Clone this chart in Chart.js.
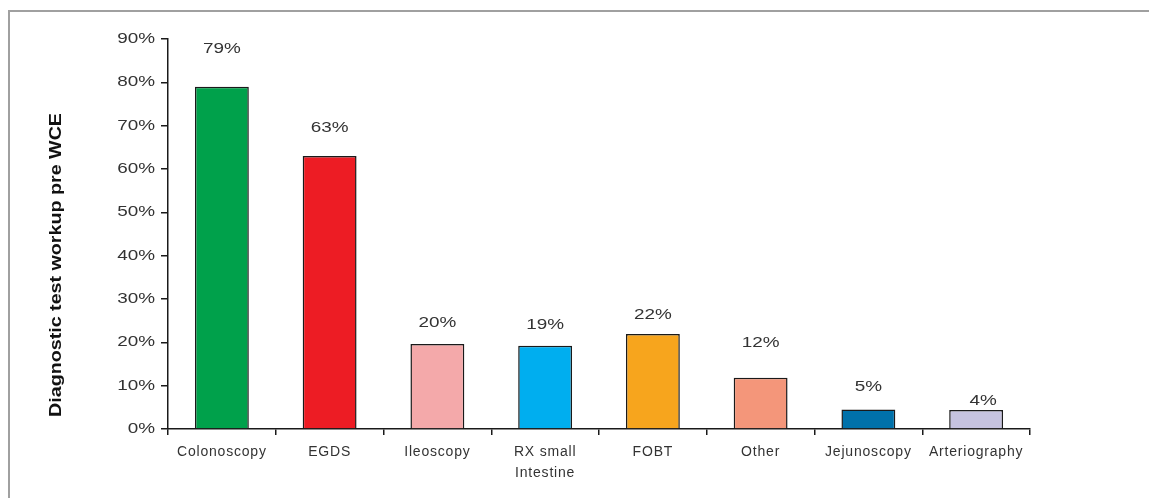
<!DOCTYPE html>
<html>
<head>
<meta charset="utf-8">
<script src="https://cdn.jsdelivr.net/npm/chart.js@4/dist/chart.umd.min.js"></script>
<style>
  html, body { margin: 0; padding: 0; background: #fff; overflow: hidden; }
  #frame { position: absolute; left: 8px; top: 10px; width: 1300px; height: 700px;
           border-top: 2px solid #a0a0a0; border-left: 2px solid #a0a0a0; }
  #wrap { position: absolute; left: 0; top: 0; width: 1149px; height: 498px; }
</style>
</head>
<body>
<div id="frame"></div>
<div id="wrap"><canvas id="c" width="1149" height="498"></canvas></div>
<script>
// ---- data ----
const categories = ["Colonoscopy", "EGDS", "Ileoscopy", ["RX small", "Intestine"], "FOBT", "Other", "Jejunoscopy", "Arteriography"];
const values = [79, 63, 19.6, 19.2, 21.9, 11.8, 4.5, 4.4];
const valueLabels = ["79%", "63%", "20%", "19%", "22%", "12%", "5%", "4%"];
const barColors = ["#00A14B", "#ED1C24", "#F4A9AA", "#00AEEF", "#F7A51D", "#F4967A", "#0071AA", "#C6C3E0"];
const yTicks = [0, 10, 20, 30, 40, 50, 60, 70, 80, 90];
const axisTitle = "Diagnostic test workup pre WCE";
// label placement (style): gap above bar top in px, and horizontal shift
const labelGap = [38, 28, 21, 21, 19, 35, 22, 9];
const labelShift = [0, 0, 0, 0, 0, 0, 0, 7];

const FONT = "'Liberation Sans', Arial, sans-serif";
const STRETCH = 1.35;   // reference text is horizontally widened

function patchX(scale, spacing) {
  if (!scale || scale._patched) return;
  const orig = scale.drawLabels.bind(scale);
  scale.drawLabels = function (area) {
    const ctx = this.ctx;
    ctx.save();
    ctx.letterSpacing = spacing + "px";
    orig(area);
    ctx.restore();
  };
  scale._patched = true;
}
function patchY(scale, sx) {
  if (!scale || scale._patched) return;
  const orig = scale.drawLabels.bind(scale);
  scale.drawLabels = function (area) {
    const ctx = this.ctx;
    const anchor = this.right - this.options.grid.tickLength - this.options.ticks.padding;
    ctx.save();
    ctx.translate(anchor, 0);
    ctx.scale(sx, 1);
    ctx.translate(-anchor, 0);
    orig(area);
    ctx.restore();
  };
  scale._patched = true;
}

const stretchPlugin = {
  id: 'stretch',
  beforeDraw(chart) {
    patchX(chart.scales.x, 0.8);
    patchY(chart.scales.y, STRETCH);
  }
};

const labelPlugin = {
  id: 'valueLabels',
  afterDatasetsDraw(chart) {
    const ctx = chart.ctx;
    const meta = chart.getDatasetMeta(0);
    meta.data.forEach((bar, i) => {
      ctx.save();
      ctx.translate(bar.x + labelShift[i], bar.y - labelGap[i]);
      ctx.scale(STRETCH, 1);
      ctx.font = "14px " + FONT;
      ctx.fillStyle = "#333";
      ctx.textAlign = "center";
      ctx.textBaseline = "middle";
      ctx.fillText(valueLabels[i], 0, 0);
      ctx.restore();
    });
  }
};

const titlePlugin = {
  id: 'yTitle',
  afterDraw(chart) {
    const ctx = chart.ctx;
    const area = chart.chartArea;
    ctx.save();
    ctx.translate(57, (area.top + area.bottom) / 2 + 31);
    ctx.rotate(-Math.PI / 2);
    ctx.scale(1.23, 1);
    ctx.font = "bold 16px " + FONT;
    ctx.fillStyle = "#111";
    ctx.textAlign = "center";
    ctx.textBaseline = "middle";
    ctx.fillText(axisTitle, 0, 0);
    ctx.restore();
  }
};

new Chart(document.getElementById('c'), {
  type: 'bar',
  data: {
    labels: categories,
    datasets: [{
      data: values,
      backgroundColor: barColors,
      borderColor: "#1a1a1a",
      borderWidth: 1.5,
      borderSkipped: 'bottom',
      barPercentage: 0.5,
      categoryPercentage: 1.0
    }]
  },
  options: {
    responsive: false,
    animation: false,
    devicePixelRatio: 1,
    layout: { padding: { left: 0, right: 119, top: 39, bottom: 0 } },
    plugins: { legend: { display: false }, tooltip: { enabled: false } },
    scales: {
      x: {
        grid: { offset: true, drawOnChartArea: false, drawTicks: true, tickLength: 6, color: "#1a1a1a", lineWidth: 1.5 },
        border: { display: true, color: "#1a1a1a", width: 1.5 },
        ticks: { color: "#333", font: { family: FONT, size: 14, lineHeight: 1.5 }, padding: 7, maxRotation: 0, autoSkip: false },
        afterFit(scale) { scale.height = 69; }
      },
      y: {
        min: 0, max: 90,
        afterBuildTicks(scale) { scale.ticks = yTicks.map(v => ({ value: v })); },
        grid: { drawOnChartArea: false, drawTicks: true, tickLength: 7, color: "#1a1a1a", lineWidth: 1.5 },
        border: { display: true, color: "#1a1a1a", width: 1.5 },
        ticks: { color: "#333", font: { family: FONT, size: 14 }, padding: 6, callback: v => v + "%" },
        afterFit(scale) { scale.width = 168; }
      }
    }
  },
  plugins: [stretchPlugin, labelPlugin, titlePlugin]
});
</script>
</body>
</html>
